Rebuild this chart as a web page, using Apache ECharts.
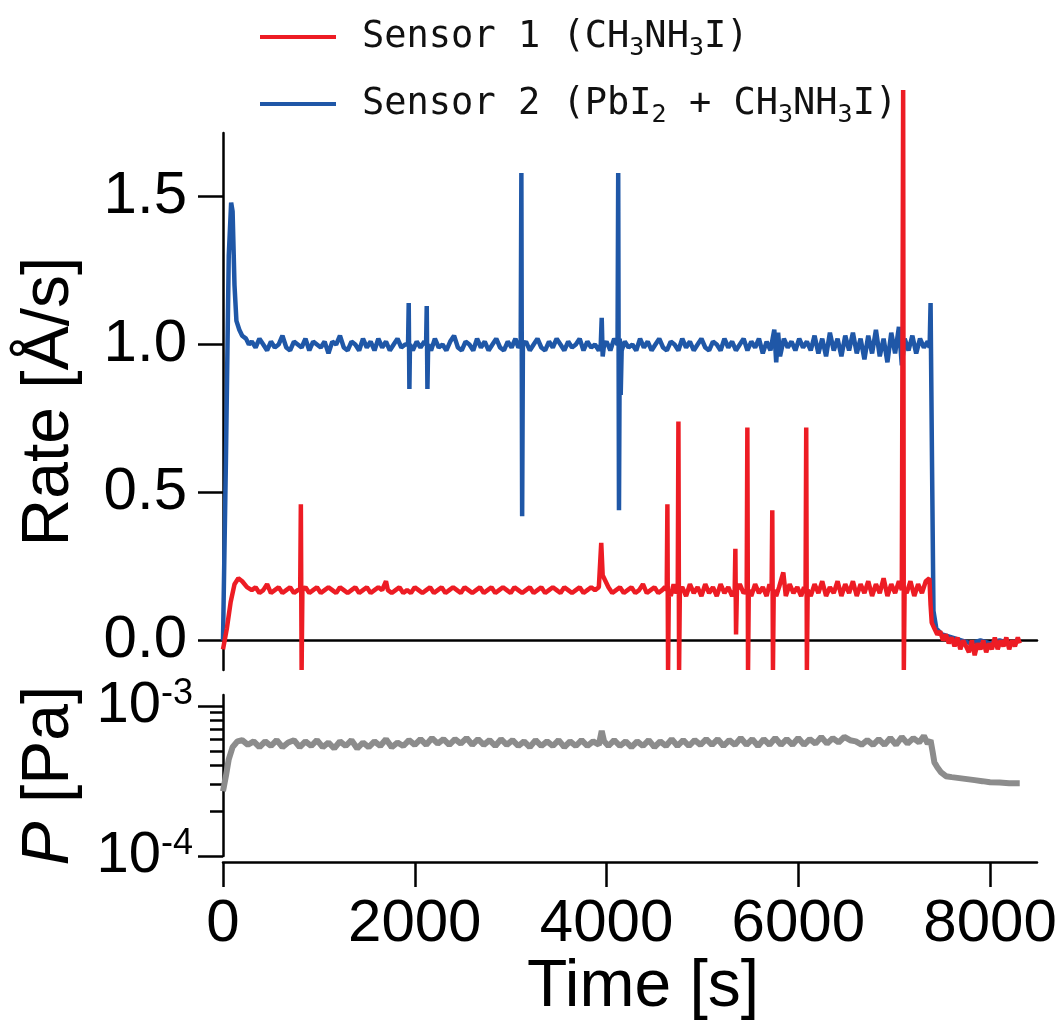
<!DOCTYPE html>
<html>
<head>
<meta charset="utf-8">
<script src="https://cdn.jsdelivr.net/npm/echarts@6/dist/echarts.min.js"></script>
<style>
  html, body { margin: 0; padding: 0; background: #fff; }
  #chart { width: 1062px; height: 1032px; }
</style>
</head>
<body>
<div id="chart"></div>
<script>
// time axis [s]
const timeTicks = [0, 2000, 4000, 6000, 8000];
const rateTicks = [0, 0.5, 1.0, 1.5];
const pressureMajorTicks = [1e-4, 1e-3];
const pressureMinorTicks = [2e-4, 3e-4, 4e-4, 5e-4, 6e-4, 7e-4, 8e-4, 9e-4];

const seriesNames = ["Sensor 1", "Sensor 2"];
const legendLabels = {
  "Sensor 1": "Sensor 1 (CH{sub|3}NH{sub|3}I)",
  "Sensor 2": "Sensor 2 (PbI{sub|2} + CH{sub|3}NH{sub|3}I)"
};

// Sensor 1 (CH3NH3I) rate [Å/s]
const sensor1Rate = [
  [0, -0.03], [40, 0.04], [80, 0.13], [120, 0.19], [160, 0.21], [200, 0.2], [250, 0.18],
  [300, 0.17], [340, 0.18], [380, 0.16], [420, 0.17], [460, 0.19], [500, 0.16], [540, 0.17], [580, 0.18],
  [620, 0.16], [660, 0.17], [700, 0.18], [740, 0.16], [780, 0.17],
  [805, 0.17], [812, 0.46], [820, -0.1], [828, 0.17],
  [860, 0.18], [900, 0.16], [940, 0.17], [980, 0.18], [1020, 0.16], [1060, 0.17], [1100, 0.18], [1140, 0.17],
  [1180, 0.16], [1220, 0.18], [1260, 0.17], [1300, 0.16], [1340, 0.17], [1380, 0.18], [1420, 0.16], [1460, 0.17],
  [1500, 0.18], [1540, 0.16], [1580, 0.17], [1620, 0.18], [1660, 0.17], [1700, 0.2], [1720, 0.17], [1760, 0.16],
  [1800, 0.17], [1840, 0.18], [1880, 0.16], [1920, 0.17], [1960, 0.16], [2000, 0.18], [2040, 0.17], [2080, 0.16],
  [2120, 0.17], [2160, 0.18], [2200, 0.16], [2240, 0.17], [2280, 0.18], [2320, 0.16], [2360, 0.17], [2400, 0.18],
  [2440, 0.17], [2480, 0.16], [2520, 0.18], [2560, 0.17], [2600, 0.16], [2640, 0.17], [2680, 0.18], [2720, 0.16],
  [2760, 0.17], [2800, 0.18], [2840, 0.16], [2880, 0.17], [2920, 0.18], [2960, 0.17], [3000, 0.16], [3040, 0.18],
  [3080, 0.17], [3120, 0.16], [3160, 0.17], [3200, 0.18], [3240, 0.16], [3280, 0.17], [3320, 0.18], [3360, 0.16],
  [3400, 0.17], [3440, 0.18], [3480, 0.17], [3520, 0.16], [3560, 0.18], [3600, 0.17], [3640, 0.16], [3680, 0.17],
  [3720, 0.18], [3760, 0.16], [3800, 0.17], [3840, 0.18], [3880, 0.17], [3920, 0.18],
  [3945, 0.33], [3960, 0.22], [3990, 0.2], [4020, 0.18], [4060, 0.16], [4100, 0.17], [4140, 0.18], [4180, 0.16],
  [4220, 0.17], [4260, 0.18], [4300, 0.16], [4340, 0.17], [4380, 0.19], [4420, 0.16], [4460, 0.17], [4500, 0.18],
  [4540, 0.16], [4580, 0.17], [4610, 0.18],
  [4628, 0.17], [4635, 0.46], [4642, -0.1], [4650, 0.17], [4670, 0.15], [4700, 0.19], [4725, 0.16],
  [4743, 0.17], [4750, 0.74], [4757, -0.1], [4765, 0.17],
  [4790, 0.18], [4830, 0.15], [4870, 0.19], [4910, 0.16], [4950, 0.18], [4990, 0.15], [5030, 0.19], [5070, 0.16],
  [5110, 0.18], [5150, 0.15], [5190, 0.19], [5230, 0.16], [5270, 0.18], [5310, 0.15],
  [5337, 0.17], [5344, 0.31], [5351, 0.02], [5360, 0.17], [5390, 0.19], [5430, 0.16],
  [5462, 0.17], [5469, 0.72], [5476, -0.1], [5484, 0.17], [5510, 0.15], [5550, 0.19], [5590, 0.16], [5630, 0.18],
  [5670, 0.15], [5700, 0.19],
  [5722, 0.17], [5729, 0.44], [5736, -0.1], [5744, 0.17], [5770, 0.15], [5800, 0.18], [5844, 0.23], [5870, 0.15],
  [5910, 0.19], [5950, 0.16], [5990, 0.18], [6030, 0.15], [6060, 0.18],
  [6076, 0.17], [6083, 0.72], [6090, -0.1], [6098, 0.17], [6130, 0.15], [6170, 0.19], [6210, 0.16], [6250, 0.2],
  [6290, 0.15], [6330, 0.18], [6370, 0.16], [6410, 0.2], [6450, 0.15], [6490, 0.19], [6530, 0.16], [6570, 0.2],
  [6610, 0.15], [6650, 0.19], [6690, 0.16], [6730, 0.2], [6770, 0.15], [6810, 0.19], [6850, 0.16], [6890, 0.21],
  [6930, 0.15], [6970, 0.19], [7010, 0.16], [7050, 0.2], [7080, 0.17],
  [7087, 0.17], [7094, 1.86], [7101, -0.1], [7109, 0.17], [7130, 0.16], [7170, 0.2], [7210, 0.15], [7250, 0.19],
  [7290, 0.16], [7330, 0.2], [7368, 0.21], [7380, 0.12], [7392, 0.06], [7420, 0.04], [7450, 0.02], [7480, 0.03],
  [7510, 0.0], [7540, 0.02], [7570, -0.01], [7600, 0.01], [7630, -0.02], [7660, 0.01], [7690, -0.03], [7720, 0.0],
  [7750, -0.02], [7780, -0.04], [7810, 0.0], [7840, -0.05], [7870, -0.01], [7900, -0.03], [7930, 0.0], [7960, -0.04],
  [7990, -0.01], [8020, -0.03], [8050, 0.01], [8080, -0.03], [8110, 0.0], [8140, -0.02], [8170, 0.01], [8200, -0.03],
  [8230, 0.0], [8260, -0.02], [8290, 0.01], [8310, -0.01]
];

// Sensor 2 (PbI2 + CH3NH3I) rate [Å/s]
const sensor2Rate = [
  [0, 0.0], [30, 0.6], [60, 1.3], [85, 1.48], [100, 1.45], [120, 1.2], [140, 1.08], [170, 1.05], [200, 1.03],
  [240, 1.02], [270, 1.0],
  [300, 1.01], [340, 0.99], [380, 1.02], [420, 1.0], [460, 0.98], [500, 1.01], [540, 0.99], [580, 1.0],
  [620, 1.03], [660, 0.99], [700, 0.98], [740, 1.01], [780, 1.0], [820, 0.99], [860, 1.02], [900, 0.98],
  [940, 1.01], [980, 1.0], [1020, 0.99], [1060, 1.01], [1100, 0.97], [1140, 1.01], [1180, 1.0], [1220, 1.03],
  [1260, 0.99], [1300, 0.98], [1340, 1.01], [1380, 1.0], [1420, 0.98], [1460, 1.02], [1500, 0.99], [1540, 1.01],
  [1580, 0.98], [1620, 1.02], [1660, 0.99], [1700, 1.01], [1740, 0.98], [1780, 1.0], [1820, 1.02], [1860, 0.99],
  [1900, 1.0],
  [1930, 1.0], [1937, 1.14], [1944, 0.85], [1950, 1.0],
  [1980, 0.98], [2020, 1.01], [2060, 0.99], [2100, 1.01],
  [2118, 1.0], [2125, 1.13], [2132, 0.85], [2140, 1.0],
  [2170, 0.98], [2210, 1.02], [2250, 0.99], [2290, 1.0], [2330, 0.98], [2370, 1.01], [2410, 1.03], [2450, 0.99],
  [2490, 0.98], [2530, 1.01], [2570, 1.0], [2610, 0.98], [2650, 1.02], [2690, 0.99], [2730, 1.01], [2770, 0.98],
  [2810, 1.0], [2850, 1.02], [2890, 0.99], [2930, 0.98], [2970, 1.01], [3010, 0.99], [3050, 1.02], [3080, 0.99],
  [3105, 1.0], [3112, 1.58], [3120, 0.42], [3128, 1.0],
  [3160, 1.01], [3200, 0.98], [3240, 1.0], [3280, 1.02], [3320, 0.99], [3360, 0.98], [3400, 1.01], [3440, 0.99],
  [3480, 1.02], [3520, 1.0], [3560, 0.98], [3600, 1.01], [3640, 0.99], [3680, 1.0], [3720, 1.02], [3760, 0.98],
  [3800, 1.01], [3840, 0.99], [3880, 1.0], [3920, 0.98],
  [3940, 1.0], [3950, 1.09], [3960, 0.96], [3975, 1.0],
  [4000, 1.01], [4040, 0.98], [4080, 1.02],
  [4115, 1.0], [4122, 1.58], [4130, 0.44], [4138, 1.02], [4148, 0.83], [4158, 0.98],
  [4190, 1.01], [4230, 0.99], [4270, 1.0], [4310, 0.98], [4350, 1.02], [4390, 0.99], [4430, 1.01], [4470, 0.98],
  [4510, 1.0], [4550, 1.02], [4590, 0.99], [4630, 0.98], [4670, 1.01], [4710, 1.0], [4750, 0.98], [4790, 1.02],
  [4830, 0.99], [4870, 1.01], [4910, 0.98], [4950, 1.0], [4990, 1.02], [5030, 0.99], [5070, 0.98], [5110, 1.01],
  [5150, 1.0], [5190, 0.98], [5230, 1.02], [5270, 0.99], [5310, 1.01], [5350, 0.98], [5390, 1.0], [5430, 1.02],
  [5470, 0.98], [5510, 1.01], [5550, 0.99], [5590, 1.02], [5630, 0.97], [5670, 1.01], [5710, 0.98], [5750, 1.05],
  [5770, 0.94], [5790, 1.04], [5810, 0.96], [5850, 1.02], [5890, 0.99], [5930, 1.01], [5970, 0.98], [6010, 1.02],
  [6050, 0.99], [6090, 1.01], [6130, 0.98], [6170, 1.03], [6210, 0.97], [6250, 1.02], [6290, 0.96], [6330, 1.04],
  [6370, 0.98], [6410, 1.02], [6450, 0.96], [6490, 1.03], [6530, 0.98], [6570, 1.04], [6610, 0.97], [6650, 1.02],
  [6690, 0.95], [6730, 1.03], [6770, 0.97], [6810, 1.05], [6850, 0.96], [6890, 1.02], [6930, 0.94], [6970, 1.04],
  [7010, 0.97], [7050, 1.06], [7080, 0.93], [7110, 1.02], [7150, 0.98], [7190, 1.03], [7230, 0.97], [7270, 1.02],
  [7310, 0.99], [7350, 1.01], [7370, 0.99],
  [7380, 1.14], [7395, 0.6], [7410, 0.1], [7440, 0.04], [7500, 0.02], [7600, 0.01], [7700, 0.0], [7800, -0.01],
  [7900, 0.0], [8000, -0.01], [8100, 0.0], [8200, -0.01], [8310, 0.0]
];

// chamber pressure [Pa]
const pressure = [
  [0, 2.7e-4], [30, 3.4e-4], [60, 4.4e-4], [100, 5.3e-4], [150, 5.8e-4], [200, 5.9e-4], [260, 5.5e-4], [320, 5.8e-4],
  [380, 5.3e-4], [440, 5.8e-4], [500, 5.4e-4], [560, 5.9e-4], [620, 5.3e-4], [680, 5.7e-4], [740, 5.9e-4], [800, 5.3e-4],
  [860, 5.8e-4], [920, 5.4e-4], [980, 5.9e-4], [1040, 5.3e-4], [1100, 5.7e-4], [1160, 5.2e-4], [1220, 5.8e-4], [1280, 5.4e-4],
  [1340, 5.9e-4], [1400, 5.2e-4], [1460, 5.7e-4], [1520, 5.3e-4], [1580, 5.8e-4], [1640, 5.4e-4], [1700, 6.0e-4], [1760, 5.3e-4],
  [1820, 5.7e-4], [1880, 5.4e-4], [1940, 5.9e-4], [2000, 5.5e-4], [2060, 6.0e-4], [2120, 5.5e-4], [2180, 6.1e-4], [2240, 5.6e-4],
  [2300, 6.0e-4], [2360, 5.5e-4], [2420, 6.0e-4], [2480, 5.6e-4], [2540, 6.1e-4], [2600, 5.5e-4], [2660, 6.0e-4], [2720, 5.5e-4],
  [2780, 5.9e-4], [2840, 5.4e-4], [2900, 6.0e-4], [2960, 5.5e-4], [3020, 5.9e-4], [3080, 5.4e-4], [3140, 5.8e-4], [3200, 5.3e-4],
  [3260, 5.9e-4], [3320, 5.4e-4], [3380, 5.8e-4], [3440, 5.4e-4], [3500, 5.9e-4], [3560, 5.3e-4], [3620, 5.8e-4], [3680, 5.4e-4],
  [3740, 5.9e-4], [3800, 5.4e-4], [3860, 5.8e-4], [3920, 5.5e-4], [3950, 6.8e-4], [3975, 5.8e-4], [4020, 5.4e-4], [4080, 5.9e-4],
  [4140, 5.4e-4], [4200, 5.8e-4], [4260, 5.3e-4], [4320, 5.8e-4], [4380, 5.4e-4], [4440, 5.9e-4], [4500, 5.3e-4], [4560, 5.8e-4],
  [4620, 5.4e-4], [4680, 6.0e-4], [4740, 5.4e-4], [4800, 5.9e-4], [4860, 5.4e-4], [4920, 5.9e-4], [4980, 5.5e-4], [5040, 6.0e-4],
  [5100, 5.5e-4], [5160, 6.0e-4], [5220, 5.4e-4], [5280, 5.9e-4], [5340, 5.5e-4], [5400, 6.1e-4], [5460, 5.5e-4], [5520, 6.0e-4],
  [5580, 5.4e-4], [5640, 6.0e-4], [5700, 5.5e-4], [5760, 6.1e-4], [5820, 5.5e-4], [5880, 6.0e-4], [5940, 5.5e-4], [6000, 6.1e-4],
  [6060, 5.5e-4], [6120, 6.0e-4], [6180, 5.6e-4], [6240, 6.2e-4], [6300, 5.6e-4], [6360, 6.1e-4], [6420, 5.7e-4], [6480, 6.2e-4],
  [6540, 5.9e-4], [6600, 5.8e-4], [6660, 5.5e-4], [6720, 5.9e-4], [6780, 5.5e-4], [6840, 6.0e-4], [6900, 5.5e-4], [6960, 6.1e-4],
  [7020, 5.5e-4], [7080, 6.2e-4], [7140, 5.6e-4], [7200, 6.1e-4], [7260, 5.7e-4], [7310, 6.3e-4], [7350, 5.6e-4], [7380, 5.9e-4],
  [7400, 5.0e-4], [7420, 4.2e-4], [7450, 3.9e-4], [7490, 3.6e-4], [7540, 3.4e-4], [7600, 3.35e-4], [7680, 3.3e-4], [7760, 3.25e-4],
  [7840, 3.2e-4], [7920, 3.15e-4], [8000, 3.1e-4], [8100, 3.08e-4], [8200, 3.05e-4], [8310, 3.05e-4]
];

const COLORS = { sensor1: "#ed1c24", sensor2: "#1f57a7", pressure: "#8c8c8c" };
const FONT = "Liberation Sans, Arial, sans-serif";
const LEGEND_FONT = "DejaVu Sans Mono";

const chart = echarts.init(document.getElementById("chart"));

function axisLine(onZero) {
  return { show: true, onZero: onZero, lineStyle: { color: "#000", width: 2.5 } };
}

function tickStyle() {
  return { color: "#000", width: 2.5 };
}

function supLabel(value) {
  const exp = Math.round(Math.log10(value));
  return "10{sup|" + exp + "}";
}

chart.setOption({
  animation: false,
  backgroundColor: "#fff",
  legend: {
    data: seriesNames,
    orient: "vertical",
    left: 260,
    top: 13,
    padding: 0,
    icon: "rect",
    itemWidth: 76,
    itemHeight: 4,
    itemGap: 19,
    selectedMode: false,
    formatter: (name) => legendLabels[name],
    textStyle: {
      fontFamily: LEGEND_FONT,
      fontSize: 37,
      lineHeight: 48,
      color: "#111",
      padding: [0, 0, 0, 21],
      rich: {
        sub: { fontFamily: LEGEND_FONT, fontSize: 25, lineHeight: 25, verticalAlign: "bottom", color: "#111" }
      }
    }
  },
  grid: [
    { left: 223, right: 25, top: 133, height: 537 },
    { left: 223, right: 25, top: 695, height: 161 }
  ],
  xAxis: [
    {
      type: "value",
      gridIndex: 0,
      min: 0,
      max: 8490,
      axisLine: axisLine(true),
      axisTick: { show: false },
      axisLabel: { show: false },
      splitLine: { show: false }
    },
    {
      type: "value",
      gridIndex: 1,
      position: "bottom",
      min: 0,
      max: 8490,
      offset: 6,
      axisLine: axisLine(false),
      axisTick: { show: true, inside: false, length: 25, lineStyle: tickStyle(), customValues: timeTicks },
      axisLabel: {
        customValues: timeTicks,
        formatter: (v) => String(v),
        fontFamily: FONT, fontSize: 60, color: "#000", margin: 32
      },
      splitLine: { show: false },
      name: "Time [s]",
      nameLocation: "middle",
      nameGap: 92,
      nameTextStyle: { fontFamily: FONT, fontSize: 66, color: "#000", padding: [0, 0, 0, 26] }
    }
  ],
  yAxis: [
    {
      type: "value",
      gridIndex: 0,
      position: "left",
      min: -0.1,
      max: 1.715,
      axisLine: axisLine(false),
      axisTick: { show: true, inside: false, length: 25, lineStyle: tickStyle(), customValues: rateTicks },
      axisLabel: {
        customValues: rateTicks,
        formatter: (v) => v.toFixed(1),
        fontFamily: FONT, fontSize: 60, color: "#000", margin: 36
      },
      splitLine: { show: false },
      name: "Rate [Å/s]",
      nameLocation: "middle",
      nameGap: 140,
      nameRotate: 90,
      nameTextStyle: { fontFamily: FONT, fontSize: 66, color: "#000" }
    },
    {
      type: "log",
      logBase: 10,
      gridIndex: 1,
      position: "left",
      min: 1e-4,
      max: 1.18e-3,
      axisLine: axisLine(false),
      axisTick: { show: true, inside: false, length: 25, lineStyle: tickStyle(), customValues: pressureMajorTicks },
      axisLabel: {
        customValues: pressureMajorTicks,
        formatter: supLabel,
        fontFamily: FONT, fontSize: 58, lineHeight: 60, color: "#000", margin: 30,
        rich: { sup: { fontFamily: FONT, fontSize: 36, lineHeight: 36, verticalAlign: "top", color: "#000" } }
      },
      splitLine: { show: false },
      name: "{i|P} [Pa]",
      nameLocation: "middle",
      nameGap: 140,
      nameRotate: 90,
      nameTextStyle: {
        fontFamily: FONT, fontSize: 66, color: "#000",
        rich: { i: { fontFamily: FONT, fontSize: 66, fontStyle: "italic", color: "#000" } }
      }
    },
    {
      // minor ticks of the log axis; the grid puts a second y axis on the right, so shift it back to the left edge
      type: "log",
      logBase: 10,
      gridIndex: 1,
      position: "right",
      offset: -814,
      min: 1e-4,
      max: 1.18e-3,
      axisLine: { show: false, onZero: false },
      axisTick: { show: true, inside: true, length: 13, lineStyle: tickStyle(), customValues: pressureMinorTicks },
      axisLabel: { show: false },
      splitLine: { show: false }
    }
  ],
  series: [
    {
      name: "Sensor 2",
      type: "line",
      xAxisIndex: 0,
      yAxisIndex: 0,
      data: sensor2Rate,
      symbol: "none",
      clip: false,
      color: COLORS.sensor2,
      lineStyle: { color: COLORS.sensor2, width: 4.5 }
    },
    {
      name: "Sensor 1",
      type: "line",
      xAxisIndex: 0,
      yAxisIndex: 0,
      data: sensor1Rate,
      symbol: "none",
      clip: false,
      color: COLORS.sensor1,
      lineStyle: { color: COLORS.sensor1, width: 4.5 }
    },
    {
      name: "Pressure",
      type: "line",
      xAxisIndex: 1,
      yAxisIndex: 1,
      data: pressure,
      symbol: "none",
      color: COLORS.pressure,
      lineStyle: { color: COLORS.pressure, width: 6 }
    }
  ]
});
</script>
</body>
</html>
